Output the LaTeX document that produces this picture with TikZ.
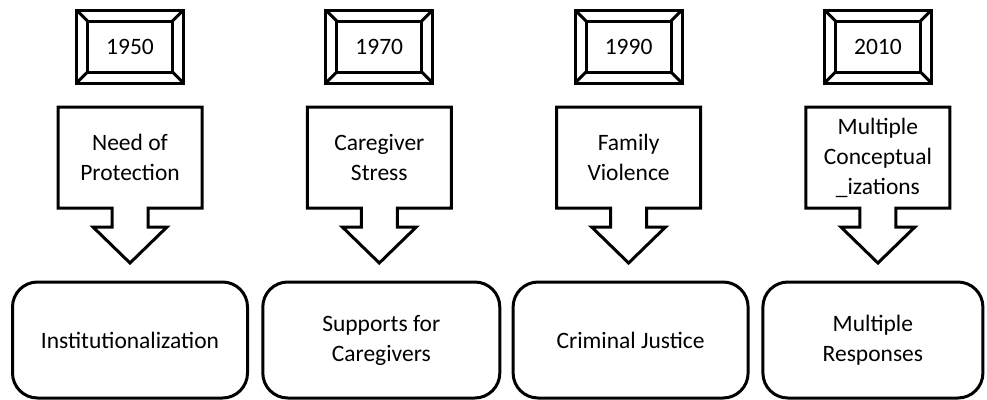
\documentclass[tikz,border=0pt]{standalone}
\usepackage{fontspec}
\setmainfont{Carlito}
\usetikzlibrary{shapes,arrows,positioning,calc}

\begin{document}
\begin{tikzpicture}[node distance=249.3pt, x=1pt, y=-1pt, line width=3pt, line join=miter]
    % Define styles
    \tikzstyle{year} = [rectangle, minimum width=85pt, minimum height=51pt, outer sep=0pt, text centered, draw=black, font=\fontsize{23.5}{30}\selectfont]
    \tikzstyle{trend} = [rectangle, minimum width=144pt, minimum height=101pt, outer sep=0pt, align=center, font=\fontsize{23.5}{30}\selectfont]
    \tikzstyle{response} = [rectangle, rounded corners=25pt, minimum width=235pt, minimum height=116pt, align=center, draw=black, font=\fontsize{23.5}{30}\selectfont]

    \useasboundingbox (0,0) rectangle (987,399);

    % Nodes
    \node[year] (y1950) at (130,46.5) {1950};
    \node[year, right of=y1950] (y1970) {1970};
    \node[year, right of=y1970] (y1990) {1990};
    \node[year, right of=y1990] (y2010) {2010};
    \node[trend, below of=y1950, yshift=138.3pt] (need) {Need of\\Protection};
    \node[trend, below of=y1970, yshift=138.3pt] (stress) {Caregiver\\Stress};
    \node[trend, below of=y1990, yshift=138.3pt] (violence) {Family\\Violence};
    \node[trend, below of=y2010, yshift=138.3pt] (multi) {Multiple\\Conceptual\\\_izations};
    \node[response, below of=need, yshift=66.8pt] (institution) {Institutionalization};
    \node[response, below of=stress, yshift=66.8pt, xshift=2pt, minimum width=237pt] (supports) {Supports for\\Caregivers};
    \node[response, below of=violence, yshift=66.8pt, xshift=2pt] (justice) {Criminal Justice};
    \node[response, below of=multi, yshift=66.8pt, xshift=-5pt, minimum width=220pt] (responses) {Multiple\\Responses};

    % Frames round the years
    \foreach \n in {y1950,y1970,y1990,y2010} {
        \draw ($(\n.north west)+(-11,-11)$) rectangle ($(\n.south east)+(11,11)$);
        \draw (\n.north west) -- +(-11,-11);
        \draw (\n.north east) -- +(11,-11);
        \draw (\n.south west) -- +(-11,11);
        \draw (\n.south east) -- +(11,11);
    }

    % Arrow boxes
    \foreach \n in {need,stress,violence,multi} {
        \draw (\n.south west) -- (\n.north west) -- (\n.north east) -- (\n.south east)
            -- ($(\n.south)+(18,0)$) -- ++(0,19) -- ++(19,0) -- ($(\n.south)+(0,55)$)
            -- ($(\n.south)+(-37,19)$) -- ++(19,0) -- ++(0,-19) -- cycle;
    }
\end{tikzpicture}
\end{document}
